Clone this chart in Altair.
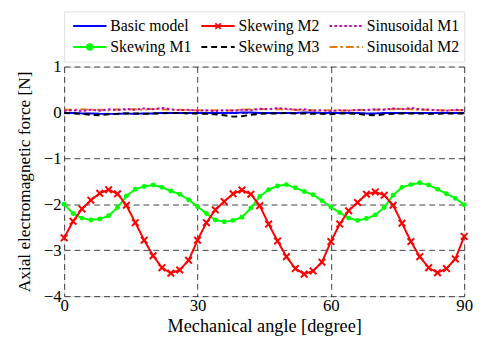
import altair as alt
import pandas as pd

angle = list(range(0, 91, 2))

basic_model = [-0.01, -0.01, -0.02, -0.02, -0.03, -0.03, -0.03, -0.02, -0.03, -0.02, -0.02,
               -0.01, -0.01, -0.01, -0.01, -0.01, -0.01, -0.01, -0.01, -0.01, 0.00, 0.00,
               -0.01, -0.01, -0.01, -0.01, -0.01, 0.00, 0.00, -0.01, -0.01, -0.01, -0.01,
               -0.01, -0.02, -0.02, -0.01, -0.01, -0.01, -0.01, -0.01, -0.01, -0.01, -0.01,
               -0.01, -0.01]
skewing_m1 = [-2.00, -2.20, -2.30, -2.34, -2.32, -2.25, -2.07, -1.82, -1.67, -1.61, -1.58,
              -1.63, -1.71, -1.78, -1.90, -2.05, -2.20, -2.34, -2.38, -2.35, -2.28, -2.08,
              -1.83, -1.68, -1.60, -1.57, -1.64, -1.72, -1.79, -1.92, -2.06, -2.18, -2.30,
              -2.35, -2.31, -2.23, -2.07, -1.80, -1.63, -1.57, -1.53, -1.58, -1.67, -1.77,
              -1.87, -2.01]
skewing_m2 = [-2.73, -2.37, -2.10, -1.91, -1.76, -1.68, -1.77, -2.02, -2.40, -2.78, -3.12,
              -3.38, -3.50, -3.43, -3.22, -2.78, -2.40, -2.12, -1.94, -1.77, -1.69, -1.78,
              -2.03, -2.43, -2.80, -3.14, -3.40, -3.52, -3.45, -3.26, -2.81, -2.43, -2.14,
              -1.96, -1.78, -1.73, -1.80, -2.02, -2.41, -2.81, -3.14, -3.38, -3.49, -3.40,
              -3.19, -2.70]
skewing_m3 = [-0.01, -0.02, -0.03, -0.05, -0.06, -0.04, -0.03, -0.02, -0.02, -0.03, -0.02,
              -0.02, -0.01, -0.01, -0.02, -0.02, -0.03, -0.04, -0.06, -0.09, -0.08, -0.05,
              -0.03, -0.02, -0.02, -0.01, -0.02, -0.02, -0.03, -0.03, -0.04, -0.02, -0.02,
              -0.03, -0.05, -0.06, -0.04, -0.03, -0.02, -0.02, -0.02, -0.03, -0.03, -0.02,
              -0.02, -0.02]
sinusoidal_m1 = [0.04, 0.05, 0.03, 0.06, 0.04, 0.07, 0.05, 0.08, 0.06, 0.09, 0.07, 0.10,
                 0.07, 0.05, 0.06, 0.04, 0.05, 0.03, 0.05, 0.04, 0.06, 0.05, 0.08, 0.07,
                 0.10, 0.08, 0.06, 0.07, 0.04, 0.05, 0.03, 0.05, 0.04, 0.06, 0.05, 0.07,
                 0.06, 0.09, 0.07, 0.10, 0.07, 0.06, 0.05, 0.04, 0.06, 0.05]
sinusoidal_m2 = [0.06, 0.06, 0.07, 0.06, 0.06, 0.05, 0.07, 0.06, 0.07, 0.06, 0.08, 0.07,
                 0.06, 0.06, 0.05, 0.05, 0.04, 0.05, 0.04, 0.05, 0.06, 0.07, 0.07, 0.08,
                 0.07, 0.07, 0.06, 0.05, 0.05, 0.04, 0.05, 0.04, 0.05, 0.05, 0.06, 0.06,
                 0.07, 0.07, 0.08, 0.07, 0.06, 0.06, 0.05, 0.05, 0.05, 0.05]

series_names = ["Basic model", "Skewing M2", "Sinusoidal M1",
                "Skewing M1", "Skewing M3", "Sinusoidal M2"]
series_values = {
    "Basic model": basic_model,
    "Skewing M1": skewing_m1,
    "Skewing M2": skewing_m2,
    "Skewing M3": skewing_m3,
    "Sinusoidal M1": sinusoidal_m1,
    "Sinusoidal M2": sinusoidal_m2,
}
colors = {
    "Basic model": "#0000ff",
    "Skewing M1": "#00ff00",
    "Skewing M2": "#ff0000",
    "Skewing M3": "#000000",
    "Sinusoidal M1": "#c000c0",
    "Sinusoidal M2": "#e07b10",
}
dashes = {
    "Basic model": [1, 0],
    "Skewing M1": [1, 0],
    "Skewing M2": [1, 0],
    "Skewing M3": [6, 4],
    "Sinusoidal M1": [2.5, 2.5],
    "Sinusoidal M2": [8, 3, 2.5, 3],
}
draw_order = ["Skewing M1", "Skewing M2", "Basic model", "Skewing M3", "Sinusoidal M2", "Sinusoidal M1"]

FONT = "Liberation Serif, Times New Roman, serif"
W, H = 406, 233

rows = []
for name in draw_order:
    for a, v in zip(angle, series_values[name]):
        rows.append({"angle": a, "force": v, "series": name})
df = pd.DataFrame(rows)

xs = alt.Scale(domain=[0, 90], nice=False)
ys = alt.Scale(domain=[-4, 1], nice=False)

xax = alt.Axis(values=[0, 30, 60, 90], title="Mechanical angle [degree]", grid=True,
               gridDash=[6, 4], gridColor="#000000", gridOpacity=0.75, gridWidth=1,
               ticks=False, domain=False, labelFont=FONT, labelFontSize=17,
               labelColor="black", titleFont=FONT, titleFontSize=18.5, titleFontWeight="normal",
               titleColor="black", labelPadding=2, titlePadding=3, labelFlush=False)
yax = alt.Axis(values=[1, 0, -1, -2, -3, -4], title="Axial electromagnetic force [N]", grid=True,
               gridDash=[6, 4], gridColor="#000000", gridOpacity=0.75, gridWidth=1,
               ticks=False, domain=False, labelFont=FONT, labelFontSize=17,
               labelColor="black", titleFont=FONT, titleFontSize=17.5, titleFontWeight="normal",
               titleColor="black", labelPadding=3, titlePadding=10, labelFlush=False)

color_scale = alt.Scale(domain=list(colors.keys()), range=list(colors.values()))
dash_scale = alt.Scale(domain=list(dashes.keys()), range=list(dashes.values()))
width_scale = alt.Scale(domain=list(colors.keys()), range=[2, 2, 2, 2.2, 2.8, 2.5])

base = alt.Chart(df)
lines = base.mark_line(clip=True).encode(
    x=alt.X("angle:Q", scale=xs, axis=xax),
    y=alt.Y("force:Q", scale=ys, axis=yax),
    color=alt.Color("series:N", scale=color_scale, legend=None),
    strokeDash=alt.StrokeDash("series:N", scale=dash_scale, legend=None),
    strokeWidth=alt.StrokeWidth("series:N", scale=width_scale, legend=None),
    detail="series:N",
    order=alt.Order("angle:Q"),
)
xpath = "M-1,-1L1,1M-1,1L1,-1"
red_pts = base.transform_filter(alt.datum.series == "Skewing M2").mark_point(
    shape=xpath, size=45, stroke="#ff0000", strokeWidth=2, filled=False, opacity=1
).encode(x=alt.X("angle:Q", scale=xs), y=alt.Y("force:Q", scale=ys))
green_pts = base.transform_filter(alt.datum.series == "Skewing M1").mark_point(
    shape="circle", size=9, fill="#00ff00", stroke="#00ff00", filled=True, opacity=1
).encode(x=alt.X("angle:Q", scale=xs), y=alt.Y("force:Q", scale=ys))

main = alt.layer(lines, red_pts, green_pts).properties(width=W, height=H)

# legend panel
leg_rows = []
for i, name in enumerate(series_names):
    leg_rows.append({"series": name, "col": i % 3, "row": i // 3})
ldf = pd.DataFrame(leg_rows)
lx = alt.Scale(domain=[0, 3.12], nice=False)
ly = alt.Scale(domain=[-0.7, 1.7], nice=False, reverse=True)
lbase = alt.Chart(ldf).transform_calculate(
    x0="datum.col + 0.07", x1="datum.col + 0.33", xm="datum.col + 0.20", xt="datum.col + 0.36"
)
lsym = lbase.mark_rule().encode(
    x=alt.X("x0:Q", scale=lx, axis=None), x2="x1:Q",
    y=alt.Y("row:Q", scale=ly, axis=None),
    color=alt.Color("series:N", scale=color_scale, legend=None),
    strokeDash=alt.StrokeDash("series:N", scale=dash_scale, legend=None),
    strokeWidth=alt.StrokeWidth("series:N", scale=width_scale, legend=None),
)
lred = lbase.transform_filter(alt.datum.series == "Skewing M2").mark_point(
    shape=xpath, size=30, stroke="#ff0000", strokeWidth=1.8, filled=False, opacity=1
).encode(x=alt.X("xm:Q", scale=lx, axis=None), y=alt.Y("row:Q", scale=ly, axis=None))
lgreen = lbase.transform_filter(alt.datum.series == "Skewing M1").mark_point(
    shape="circle", size=30, fill="#00ff00", stroke="#00ff00", filled=True, opacity=1
).encode(x=alt.X("xm:Q", scale=lx, axis=None), y=alt.Y("row:Q", scale=ly, axis=None))
ltext = lbase.mark_text(align="left", baseline="middle", font=FONT, fontSize=16, color="black").encode(
    x=alt.X("xt:Q", scale=lx, axis=None), y=alt.Y("row:Q", scale=ly, axis=None), text="series:N"
)
legend = alt.layer(lsym, lred, lgreen, ltext).properties(width=W, height=51)

chart = alt.vconcat(legend, main, spacing=5, bounds="flush").configure_view(
    stroke="black", strokeWidth=1.2
).configure(background="white", padding={"left": 7, "top": 0, "right": 5, "bottom": 0})

chart.save("out.html", embed_options={"renderer": "svg", "actions": False})
